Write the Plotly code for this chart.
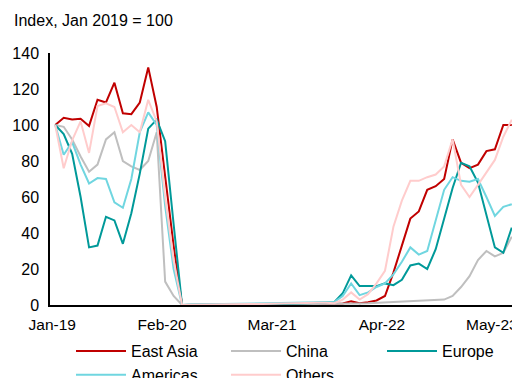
import plotly.graph_objects as go
import pandas as pd

months = [d.strftime("%b-%y") for d in pd.date_range("2019-01-01", periods=55, freq="MS")]
tick_labels = ["Jan-19", "Feb-20", "Mar-21", "Apr-22", "May-23"]
y_ticks = [0, 20, 40, 60, 80, 100, 120, 140]

east_asia = [100, 104, 103, 103.5, 99.5, 114, 112.5, 123.5, 106.5, 106, 112.5, 132, 110, 70, 33,
             0, 0, 0.2, 0.2, 0.2, 0.2, 0.3, 0.3, 0.3, 0.3,
             0.3, 0.4, 0.4, 0.4, 0.5, 0.5, 0.5, 0.5, 0.5,
             0.8, 2, 1, 1.5, 2.5, 5, 18, 33, 48, 52, 64, 66, 70, 92, 79, 76, 78, 85.5, 86.5, 100, 100]
china = [100, 99, 92, 82.5, 74, 78, 92, 96, 80, 77, 75, 80, 96, 13, 5,
         0, 0, 0, 0.1, 0.1, 0.1, 0.1, 0.2, 0.2, 0.2,
         0.3, 0.3, 0.3, 0.3, 0.4, 0.5, 0.5, 0.6, 0.6,
         0.7, 0.8, 0.9, 1, 1.2, 1.4, 1.6, 1.8, 2, 2.2, 2.4, 2.6, 3, 5, 10, 16, 25, 30, 27, 29, 38]
europe = [100, 95, 84, 60, 32, 33, 49, 47, 34, 51, 73, 98, 103, 91, 45,
          0, 0.2, 0.2, 0.3, 0.3, 0.3, 0.4, 0.4, 0.4, 0.5,
          0.5, 0.6, 0.6, 0.7, 0.8, 1, 1, 1.2, 1.5,
          6.5, 16.5, 10.5, 10.5, 10.5, 12, 11, 14, 22, 23, 20, 31, 48, 65, 79, 77, 68, 50, 32, 29, 43]
americas = [100, 83.5, 90.5, 78, 67.5, 70.5, 70, 57, 54, 70, 96, 107, 100, 55, 20,
            0, 0.3, 0.4, 0.5, 0.5, 0.6, 0.7, 0.8, 0.8, 0.9,
            1, 1, 1.1, 1.2, 1.3, 1.5, 1.5, 1.5, 1.6,
            5, 12, 5.5, 7, 10, 12, 17, 24, 32, 28, 30, 47, 64, 71, 69, 68.5, 70, 60, 49.5, 54.5, 56]
others = [100, 76, 91.5, 102, 84.5, 110.5, 112, 110, 96, 100, 96, 114, 102, 60, 25,
          0, 0.2, 0.3, 0.3, 0.3, 0.4, 0.4, 0.5, 0.5, 0.5,
          0.6, 0.7, 0.8, 0.9, 1, 1.5, 1.3, 1.2, 1.0,
          3, 7, 3, 6, 12, 19, 43.5, 58, 69, 69, 71, 72.5, 77, 92, 66.7, 60, 66.7, 73.5, 80.6, 93.5, 103]

# (name, values, colour, legend column)
series = [
    ("East Asia", east_asia, "#C00000", "legend"),
    ("China", china, "#BFBFBF", "legend2"),
    ("Europe", europe, "#009999", "legend3"),
    ("Americas", americas, "#70D6E0", "legend"),
    ("Others", others, "#FFCCCC", "legend2"),
]

FONT = "Liberation Sans, Arial, sans-serif"
FS = 16
# the page body adds an 8px offset; figure coordinates below are page coords - 8
W, H = 512, 370
ML, MT, PW, PH = 42, 45, 465, 252

fig = go.Figure()
for name, vals, col, lg in series:
    fig.add_trace(go.Scatter(x=months, y=vals, mode="lines", name=name, legend=lg,
                             line=dict(color=col, width=2)))

def leg(px_left, px_top):
    return dict(orientation="v", x=(px_left - ML) / PW, xanchor="left",
                y=1 - (px_top - MT) / PH, yanchor="top", itemwidth=50,
                font=dict(family=FONT, size=FS), bgcolor="rgba(0,0,0,0)",
                tracegroupgap=0, traceorder="normal")

fig.update_layout(
    width=W, height=H,
    margin=dict(l=ML, r=W - ML - PW, t=MT, b=H - MT - PH, autoexpand=False),
    paper_bgcolor="white", plot_bgcolor="white",
    font=dict(family=FONT, size=FS, color="#000000"),
    showlegend=True,
    legend=leg(63, 326),
    legend2=leg(218, 326),
    legend3=leg(374, 326),
    annotations=[dict(text="Index, Jan 2019 = 100", xref="paper", yref="paper",
                      x=(4 - ML) / PW, y=1 + (MT - 12) / PH, xanchor="left", yanchor="middle",
                      showarrow=False, font=dict(family=FONT, size=FS))],
)
fig.update_xaxes(type="category", range=[-0.62, 54.38], tickmode="array",
                 tickvals=tick_labels, ticktext=tick_labels,
                 showline=True, linecolor="#000000", linewidth=1.5,
                 showgrid=False, zeroline=False,
                 ticks="outside", ticklen=5, tickcolor="rgba(0,0,0,0)",
                 ticklabelshift=-3,
                 tickfont=dict(family=FONT, size=15.5))
fig.update_yaxes(range=[0, 140], tickvals=y_ticks,
                 showline=True, linecolor="#000000", linewidth=1.5,
                 showgrid=False, zeroline=False,
                 ticks="outside", ticklen=6, tickcolor="rgba(0,0,0,0)",
                 tickfont=dict(family=FONT, size=FS))

fig.write_html("out.html")
